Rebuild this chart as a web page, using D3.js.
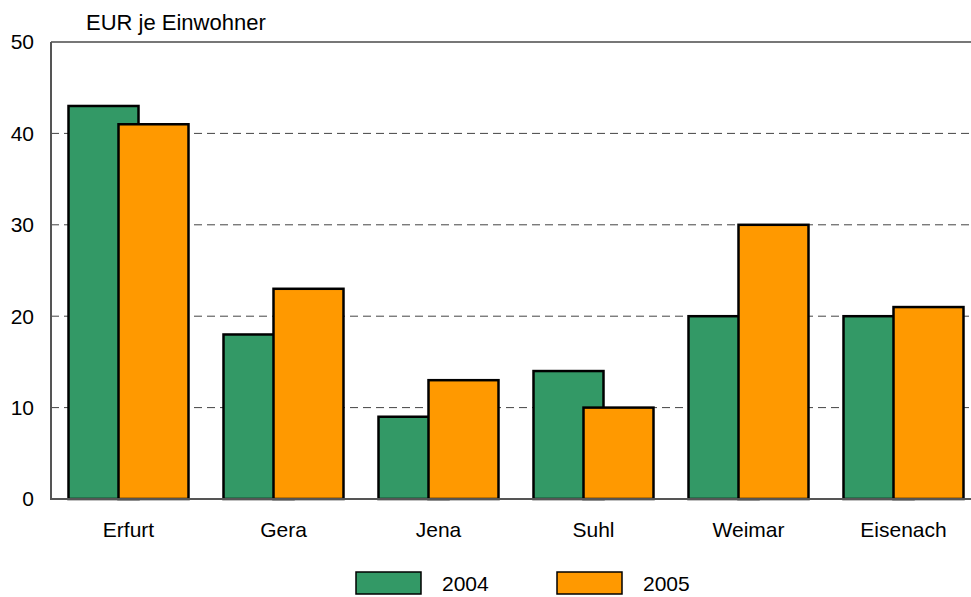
<!DOCTYPE html>
<html><head><meta charset="utf-8">
<script src="https://cdn.jsdelivr.net/npm/d3@7"></script>
<style>body{margin:0;background:#fff}svg{display:block;font-family:"Liberation Sans",Arial,sans-serif}</style>
</head><body><svg id="c" width="971" height="597"></svg>
<script>
const categories = ["Erfurt","Gera","Jena","Suhl","Weimar","Eisenach"];
const values2004 = [43,18,9,14,20,20];
const values2005 = [41,23,13,10,30,21];
const seriesNames = ["2004","2005"];
const yTicks = [0,10,20,30,40,50];
const colors = ["#339966","#FF9900"];

const svg = d3.select("#c");
const L = 51, R = 971, T = 42, B = 499;
const x = d3.scaleBand().domain(categories).range([L, L + 155*6]).paddingInner(0);
const y = d3.scaleLinear().domain([0,50]).range([B, T]);

// gridlines
svg.append("g").selectAll("line").data(yTicks.filter(d => d>0 && d<50)).join("line")
  .attr("x1", L).attr("x2", R).attr("y1", d=>y(d)).attr("y2", d=>y(d))
  .attr("stroke","#444").attr("stroke-width",1).attr("stroke-dasharray","8,5");
// top frame
svg.append("line").attr("x1",L).attr("x2",R).attr("y1",y(50)).attr("y2",y(50)).attr("stroke","#777").attr("stroke-width",2);

const bw = 70, off = 50, groupW = bw + off;
const data = categories.map((c,i)=>({c, v:[values2004[i], values2005[i]]}));
const g = svg.append("g");
[0,1].forEach(s=>{
  g.selectAll(".b"+s).data(data).join("rect")
    .attr("x", d => x(d.c) + (x.bandwidth()-groupW)/2 + s*off)
    .attr("y", d => y(d.v[s]))
    .attr("width", bw)
    .attr("height", d => y(0)-y(d.v[s]))
    .attr("fill", colors[s]).attr("stroke","#000").attr("stroke-width",2.5);
});

// axes lines
svg.append("line").attr("x1",L).attr("x2",L).attr("y1",T).attr("y2",B+1).attr("stroke","#555").attr("stroke-width",2);
svg.append("line").attr("x1",L).attr("x2",R).attr("y1",B).attr("y2",B).attr("stroke","#555").attr("stroke-width",2);

const fs = 21;
// y labels
svg.append("g").selectAll("text").data(yTicks).join("text")
  .attr("x",34).attr("y",d=>y(d)).attr("dy","0.35em").attr("text-anchor","end")
  .attr("font-size",fs).attr("fill","#000").text(d=>d);
// title
svg.append("text").attr("x",86).attr("y",22).attr("dy","0.35em").attr("font-size",22).text("EUR je Einwohner");
// x labels
svg.append("g").selectAll("text").data(categories).join("text")
  .attr("x",d=>x(d)+x.bandwidth()/2).attr("y",530).attr("dy","0.35em").attr("text-anchor","middle")
  .attr("font-size",fs).text(d=>d);

// legend
const lg = svg.append("g");
const lx = [356, 557];
seriesNames.forEach((n,i)=>{
  lg.append("rect").attr("x",lx[i]).attr("y",572).attr("width",65).attr("height",22)
    .attr("fill",colors[i]).attr("stroke","#000").attr("stroke-width",1.5);
  lg.append("text").attr("x",lx[i]+86).attr("y",584).attr("dy","0.35em").attr("font-size",fs).text(n);
});
</script></body></html>
